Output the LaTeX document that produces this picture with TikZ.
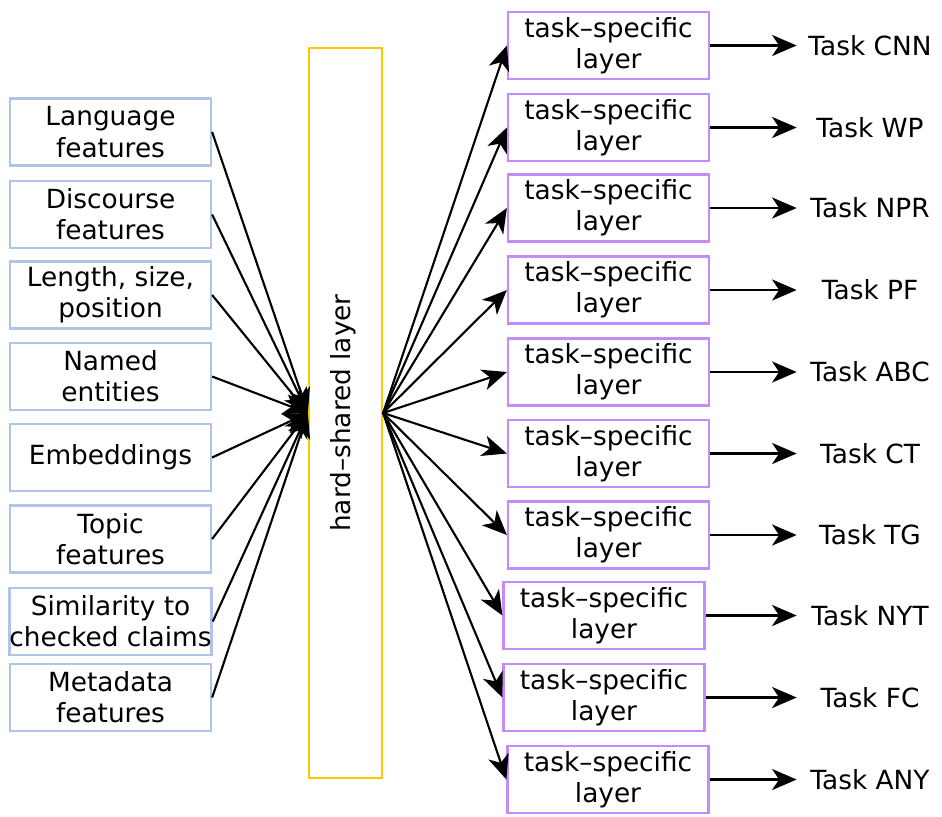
\documentclass[tikz,border=0pt]{standalone}
\usepackage{fontspec}
\setmainfont{DejaVu Sans}
\usetikzlibrary{arrows.meta}
\definecolor{featblue}{RGB}{176,196,232}
\definecolor{taskpurple}{RGB}{196,140,250}
\definecolor{sharedyellow}{RGB}{255,200,0}
\tikzset{
  txt/.style={font=\fontsize{15}{17.8}\selectfont, align=center, inner sep=0pt},
  featbox/.style={txt, draw=featblue, line width=1.3pt, minimum width=4.02cm, minimum height=1.34cm},
  taskbox/.style={txt, draw=taskpurple, line width=1.3pt, minimum width=4.02cm, minimum height=1.34cm},
  sharedbox/.style={draw=sharedyellow, line width=1.3pt, minimum width=1.46cm, minimum height=14.6cm, inner sep=0pt},
  tasklabel/.style={txt, minimum width=2.92cm},
  arr/.style={-{Stealth[length=14pt,width=12pt,inset=4pt]}, line width=1.2pt, black}
}
\begin{document}
\begin{tikzpicture}[x=0.02cm, y=-0.02cm]
\useasboundingbox (0,0) rectangle (942,816);
% hard-shared layer
\node[sharedbox] (hs) at (345.5,413) {};
\node[txt, rotate=90] (hslabel) at (343,413) {hard–shared layer};
% feature boxes
\node[featbox] (f1) at (110.5,132) {Language\\features};
\node[featbox] (f2) at (110.5,214.5) {Discourse\\features};
\node[featbox] (f3) at (110.5,295) {Length, size,\\position};
\node[featbox] (f4) at (110.5,376.5) {Named\\entities};
\node[featbox] (f5) at (110.5,457.5) {Embeddings};
\node[featbox] (f6) at (110.5,539) {Topic\\features};
\node[featbox] (f7) at (110.5,621.5) {Similarity to\\checked claims};
\node[featbox] (f8) at (110.5,697.5) {Metadata\\features};
\foreach \i in {1,...,8} {\draw[arr] (f\i.east) -- (hs.west);}
% task-specific layers
\node[taskbox] (t1) at (608.5,45.5) {task–specific\\layer};
\node[taskbox] (t2) at (608.5,127.5) {task–specific\\layer};
\node[taskbox] (t3) at (608.5,208) {task–specific\\layer};
\node[taskbox] (t4) at (608.5,290) {task–specific\\layer};
\node[taskbox] (t5) at (608.5,372) {task–specific\\layer};
\node[taskbox] (t6) at (608.5,453.5) {task–specific\\layer};
\node[taskbox] (t7) at (608.5,535) {task–specific\\layer};
\node[taskbox] (t8) at (604,615.5) {task–specific\\layer};
\node[taskbox] (t9) at (604,697.5) {task–specific\\layer};
\node[taskbox] (t10) at (608,779.5) {task–specific\\layer};
% task labels
\node[tasklabel] (l1) at (870,45.5) {Task CNN};
\node[tasklabel] (l2) at (870,127.5) {Task WP};
\node[tasklabel] (l3) at (870,208) {Task NPR};
\node[tasklabel] (l4) at (870,290) {Task PF};
\node[tasklabel] (l5) at (870,372) {Task ABC};
\node[tasklabel] (l6) at (870,453.5) {Task CT};
\node[tasklabel] (l7) at (870,535) {Task TG};
\node[tasklabel] (l8) at (870,615.5) {Task NYT};
\node[tasklabel] (l9) at (870,697.5) {Task FC};
\node[tasklabel] (l10) at (870,779.5) {Task ANY};
\foreach \i in {1,...,10} {
  \draw[arr] (hs.east) -- (t\i.west);
  \draw[arr] (t\i.east) -- (l\i.west);
}
\end{tikzpicture}
\end{document}
